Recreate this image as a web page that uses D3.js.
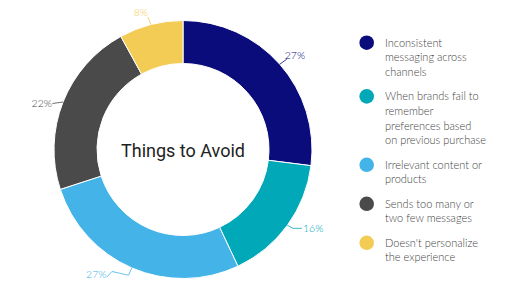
<!DOCTYPE html>
<html>
<head>
<meta charset="utf-8">
<script src="https://cdn.jsdelivr.net/npm/d3@7"></script>
<style>
  html, body { margin: 0; padding: 0; background: #fff; }
  svg { display: block; }
</style>
</head>
<body>
<svg id="chart" width="512" height="297"></svg>
<script>
// ---- data ----
const categories = [
  "Inconsistent messaging across channels",
  "When brands fail to remember preferences based on previous purchase",
  "Irrelevant content or products",
  "Sends too many or two few messages",
  "Doesn't personalize the experience"
];
const values = [27, 16, 27, 22, 8];
const legendLines = [
  ["Inconsistent", "messaging across", "channels"],
  ["When brands fail to", "remember", "preferences based", "on previous purchase"],
  ["Irrelevant content or", "products"],
  ["Sends too many or", "two few messages"],
  ["Doesn't personalize", "the experience"]
];
const colors = ["#0b0c7c", "#00a8b8", "#44b4e8", "#4a4a4a", "#f3cc56"];
const title = "Things to Avoid";

// ---- label layout (leader waypoints relative to slice outer centroid, text anchor) ----
const labelLayout = [
  { pts: [[7, -5]], text: [5, -5.7], anchor: "start" },
  { pts: [[5.6, 3], [14.6, 3]], text: [15.6, 7], anchor: "start" },
  { pts: [[-3.2, 7.3], [-19.8, 3.6], [-25, 9.2]], text: [-25.3, 10.6], anchor: "end" },
  { pts: [[-10.6, 1.5]], text: [-11.1, 4.5], anchor: "end" },
  { pts: [[-3, -7.5]], text: [-3, -8.5], anchor: "end" }
];

const svg = d3.select("#chart");
const cx = 183, cy = 149.5, rOuter = 129, rInner = 86;

const pie = d3.pie().sort(null).value(d => d)(values);
const arc = d3.arc().innerRadius(rInner).outerRadius(rOuter);

const g = svg.append("g").attr("transform", `translate(${cx},${cy})`);

g.selectAll("path.slice")
  .data(pie)
  .join("path")
  .attr("class", "slice")
  .attr("d", arc)
  .attr("fill", (d, i) => colors[i])
  .attr("stroke", "#fff")
  .attr("stroke-width", 1);

// labels with leader lines
pie.forEach((d, i) => {
  const a = (d.startAngle + d.endAngle) / 2;
  const px = rOuter * Math.sin(a), py = -rOuter * Math.cos(a);
  const L = labelLayout[i];
  const pts = [[px, py]].concat(L.pts.map(p => [px + p[0], py + p[1]]));
  g.append("path")
    .attr("d", d3.line()(pts))
    .attr("fill", "none")
    .attr("stroke", colors[i])
    .attr("stroke-width", 0.8);
  g.append("text")
    .attr("x", px + L.text[0])
    .attr("y", py + L.text[1])
    .attr("text-anchor", L.anchor)
    .attr("font-family", "Lato, 'Open Sans', sans-serif")
    .attr("font-weight", 300)
    .attr("font-size", 10.5)
    .attr("fill", colors[i])
    .text(values[i] + "%");
});

// center title
g.append("text")
  .attr("x", 0)
  .attr("y", 7.5)
  .attr("text-anchor", "middle")
  .attr("font-family", "Roboto, sans-serif")
  .attr("font-size", 18)
  .attr("fill", "#222")
  .text(title);

// legend
const legend = svg.append("g");
const lineH = 14.7, gap = 9.6;
let y = 42.7;
legendLines.forEach((lines, i) => {
  const item = legend.append("g").attr("transform", `translate(0,${y})`);
  item.append("circle")
    .attr("cx", 366.7).attr("cy", 0).attr("r", 7.3)
    .attr("fill", colors[i]);
  const t = item.append("text")
    .attr("font-family", "Lato, 'Open Sans', sans-serif")
    .attr("font-weight", 300)
    .attr("font-size", 11)
    .attr("fill", "#444");
  lines.forEach((ln, j) => {
    t.append("tspan").attr("x", 385).attr("y", 4 + j * lineH).text(ln);
  });
  y += lines.length * lineH + gap;
});
</script>
</body>
</html>
